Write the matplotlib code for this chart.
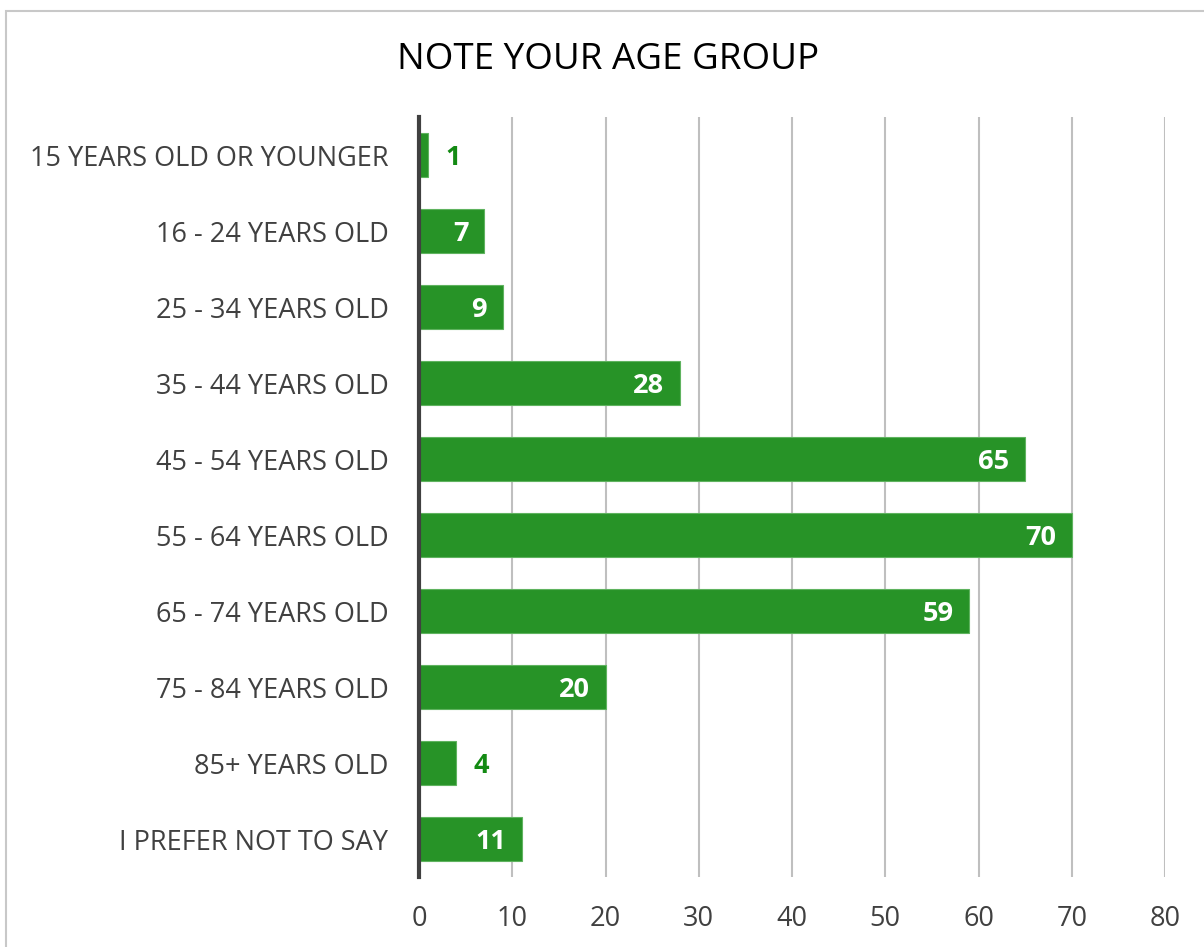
import numpy as np
import matplotlib
matplotlib.use("Agg")
import matplotlib.pyplot as plt
from matplotlib.patches import Rectangle

# survey answers, top to bottom as shown
categories = ["15 YEARS OLD OR YOUNGER", "16 - 24 YEARS OLD", "25 - 34 YEARS OLD",
              "35 - 44 YEARS OLD", "45 - 54 YEARS OLD", "55 - 64 YEARS OLD",
              "65 - 74 YEARS OLD", "75 - 84 YEARS OLD", "85+ YEARS OLD",
              "I PREFER NOT TO SAY"]
counts = [1, 7, 9, 28, 65, 70, 59, 20, 4, 11]
xticks = [0, 10, 20, 30, 40, 50, 60, 70, 80]

bar_green = "#279327"
label_green = "#138a13"
text_grey = "#404040"

plt.rcParams['font.family'] = ['Open Sans', 'DejaVu Sans']

fig = plt.figure(figsize=(12.04, 9.47), dpi=100)
ax = fig.add_axes([419/1204, 1-877/947, (1165-419)/1204, (877-117)/947])

ypos = np.arange(len(categories))
ax.barh(ypos, counts, height=0.58, color=bar_green, edgecolor="#5fb35f", linewidth=0.8, zorder=3)
ax.set_ylim(len(categories)-0.5, -0.5)
ax.set_xlim(0, 80)
ax.set_yticks(ypos)
ax.set_yticklabels(categories, fontsize=19.5, color=text_grey)
ax.set_xticks(xticks)
ax.set_xticklabels([str(t) for t in xticks], fontsize=19.5, color=text_grey)
ax.tick_params(axis="both", length=0)
ax.tick_params(axis="y", pad=22)
ax.tick_params(axis="x", pad=20)

ax.grid(axis="x", color="#bfbfbf", linewidth=1.5, zorder=0)
for s in ["top", "right", "bottom"]:
    ax.spines[s].set_visible(False)
ax.spines["left"].set_color(text_grey)
ax.spines["left"].set_linewidth(3)
ax.spines["left"].set_zorder(4)

# value labels: inside (white) for long bars, outside (green) for short ones
for y, v in zip(ypos, counts):
    if v >= 6:
        ax.text(v - 1.7, y + 0.04, str(v), ha="right", va="center", fontsize=19.5,
                fontweight="bold", color="white", zorder=5)
    else:
        ax.text(v + 1.8, y + 0.04, str(v), ha="left", va="center", fontsize=19.5,
                fontweight="bold", color=label_green, zorder=5)

fig.text(608/1204, 1-60/947, "NOTE YOUR AGE GROUP", ha="center", va="center",
         fontsize=26.5, color="black")

# light chart border
fig.patches.append(Rectangle((6/1204, -0.01), 1.2, 1-11/947+0.01, transform=fig.transFigure,
                             fill=False, edgecolor="#c8c8c8", linewidth=1.5))

fig.savefig("out.png", dpi=100, facecolor="white")
